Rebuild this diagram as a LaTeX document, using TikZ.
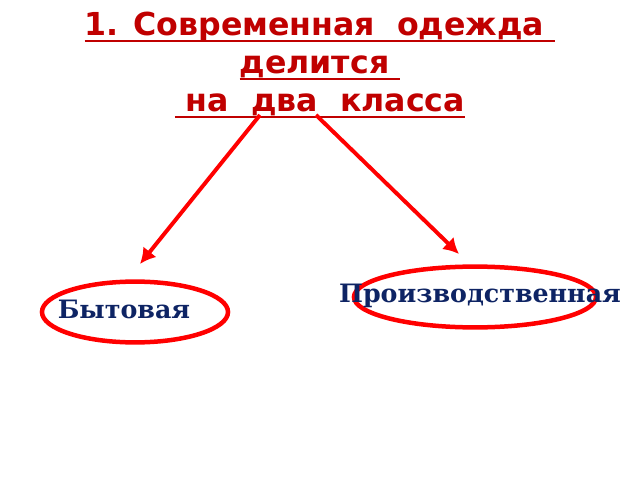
\documentclass[tikz,border=0pt]{standalone}
\usepackage{fontspec}
\setmainfont{DejaVu Serif}
\newfontfamily\headfont{DejaVu Sans}
\usetikzlibrary{arrows,arrows.meta,shapes,calc}
\definecolor{headred}{RGB}{192,0,0}
\definecolor{kindblue}{RGB}{14,36,100}
\newcommand{\redline}[1]{\setbox0\hbox{#1}\rlap{\rule[-4.8pt]{\wd0}{1.5pt}}\box0}
\tikzset{
    heading/.style = {text=headred, inner sep=0pt, anchor=base,
        font=\headfont\bfseries\fontsize{22.5}{27}\selectfont},
    kind/.style = {text=kindblue, inner sep=0pt, anchor=base,
        font=\bfseries\fontsize{18}{22}\selectfont},
    ring/.style = {draw=red, line width=3.2pt, ellipse, inner sep=0pt},
    arrow/.style = {draw=red, line width=2.8pt, -{Latex[length=11pt,width=12pt]}}
}

\begin{document}
\begin{tikzpicture}[x=0.025cm, y=-0.025cm]
    \useasboundingbox [fill=white] (0,0) rectangle (640,480);
    % title
    \node [heading] (head1) at (320,35) {\redline{1. Современная\ \ одежда\ }};
    \node [heading] (head2) at (320,73) {\redline{делится\ }};
    \node [heading] (head3) at (320,111) {\redline{\ на\ \ два\ \ класса}};
    % two classes
    \node [ring, minimum width=4.65cm, minimum height=1.52cm] (everyday) at (135,312) {};
    \node [ring, minimum width=6.05cm, minimum height=1.52cm] (industrial) at (475,297) {};
    \node [kind] (everydaytext) at (124,318) {Бытовая};
    \node [kind] (industrialtext) at (480,302) {Производственная};
    % arrows
    \coordinate (fromL) at (260,115);
    \coordinate (fromR) at (316,115);
    \coordinate (toL) at (140,264);
    \coordinate (toR) at (459,254);
    \draw [arrow] (fromL) -- (toL);
    \draw [arrow] (fromR) -- (toR);
\end{tikzpicture}
\end{document}
